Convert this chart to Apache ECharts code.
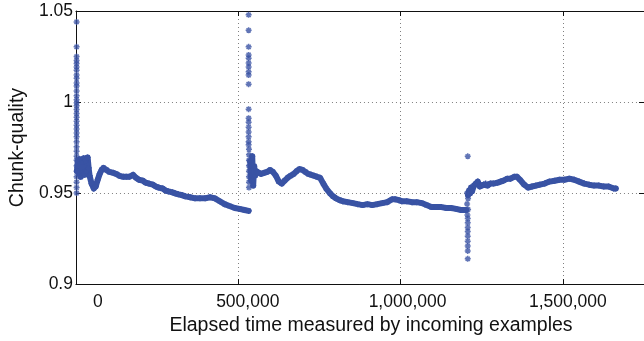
<!DOCTYPE html>
<html>
<head>
<meta charset="utf-8">
<script src="https://cdn.jsdelivr.net/npm/echarts@6/dist/echarts.min.js"></script>
<style>
  html, body { margin: 0; padding: 0; background: #fff; }
  #chart { width: 644px; height: 341px; }
</style>
</head>
<body>
<div id="chart"></div>
<script>
// x tick values and their labels
const xTicks = [0, 500000, 1000000, 1500000]
const xTickText = ['0', '500,000', '1,000,000', '1,500,000']

// main trail, three runs between the restarts
const segA = [
  [3000,0.9621],[6000,0.9675],[9000,0.9605],[12000,0.9686],[15000,0.9589],[18000,0.9670],
  [21000,0.9611],[24000,0.9691],[27000,0.9600],[30000,0.9680],[33000,0.9621],[36000,0.9696],
  [39000,0.9638],[42000,0.9595],[48000,0.9552],[55000,0.9525],[61000,0.9536],[67000,0.9573],
  [73000,0.9605],[79000,0.9627],[85000,0.9638],[94000,0.9627],[103000,0.9616],[115000,0.9611],
  [124000,0.9605],[134000,0.9595],[146000,0.9589],[155000,0.9589],[164000,0.9589],[176000,0.9600],
  [185000,0.9584],[194000,0.9573],[206000,0.9568],[215000,0.9557],[225000,0.9552],[237000,0.9546],
  [246000,0.9536],[255000,0.9530],[267000,0.9525],[276000,0.9514],[285000,0.9509],[297000,0.9504],
  [306000,0.9498],[316000,0.9493],[328000,0.9488],[337000,0.9482],[352000,0.9477],[367000,0.9471],
  [382000,0.9471],[398000,0.9471],[413000,0.9477],[428000,0.9471],[443000,0.9455],[458000,0.9439],
  [473000,0.9429],[489000,0.9418],[504000,0.9413],[519000,0.9407],[532000,0.9402]
]
const segB = [
  [537000,0.9675],[540000,0.9568],[543000,0.9702],[546000,0.9541],[549000,0.9648],[552000,0.9595],
  [555000,0.9621],[561000,0.9611],[570000,0.9605],[580000,0.9611],[589000,0.9616],[598000,0.9627],
  [607000,0.9616],[616000,0.9595],[625000,0.9563],[634000,0.9552],[643000,0.9568],[652000,0.9584],
  [661000,0.9595],[671000,0.9605],[680000,0.9621],[689000,0.9632],[698000,0.9627],[707000,0.9616],
  [716000,0.9605],[725000,0.9600],[734000,0.9595],[743000,0.9589],[752000,0.9584],[762000,0.9552],
  [771000,0.9525],[783000,0.9498],[792000,0.9482],[801000,0.9471],[813000,0.9461],[822000,0.9455],
  [837000,0.9450],[853000,0.9445],[868000,0.9439],[883000,0.9434],[898000,0.9439],[913000,0.9434],
  [928000,0.9439],[944000,0.9445],[959000,0.9450],[974000,0.9466],[983000,0.9466],[995000,0.9461],
  [1004000,0.9455],[1019000,0.9455],[1035000,0.9450],[1050000,0.9450],[1065000,0.9445],[1080000,0.9434],
  [1095000,0.9423],[1110000,0.9423],[1126000,0.9423],[1141000,0.9418],[1156000,0.9418],[1171000,0.9413],
  [1186000,0.9407],[1202000,0.9407]
]
const segC = [
  [1208000,0.9488],[1211000,0.9514],[1214000,0.9498],[1217000,0.9530],[1220000,0.9509],[1226000,0.9541],
  [1232000,0.9552],[1238000,0.9563],[1244000,0.9536],[1250000,0.9541],[1256000,0.9546],[1262000,0.9552],
  [1268000,0.9541],[1277000,0.9552],[1286000,0.9552],[1299000,0.9557],[1308000,0.9563],[1317000,0.9568],
  [1329000,0.9579],[1338000,0.9579],[1350000,0.9589],[1359000,0.9589],[1368000,0.9573],[1381000,0.9546],
  [1393000,0.9530],[1405000,0.9536],[1417000,0.9541],[1429000,0.9546],[1444000,0.9552],[1459000,0.9563],
  [1475000,0.9568],[1490000,0.9573],[1505000,0.9573],[1520000,0.9579],[1535000,0.9573],[1550000,0.9563],
  [1566000,0.9552],[1581000,0.9546],[1596000,0.9541],[1611000,0.9541],[1626000,0.9536],[1641000,0.9536],
  [1657000,0.9525],[1663000,0.9525]
]

// scattered points at the three restarts
const spike1 = [
  [2000,1.0440],[2000,1.0303],[2000,1.0250],[2000,1.0228],[2000,1.0211],[2000,1.0193],[2000,1.0175],
  [2000,1.0148],[2000,1.0130],[2000,1.0104],[2000,1.0088],[2000,1.0061],[2000,1.0034],[2000,1.0013],
  [2000,0.9996],[2000,0.9980],[2000,0.9959],[2000,0.9937],[2000,0.9916],[2000,0.9895],[2000,0.9873],
  [2000,0.9852],[2000,0.9830],[2000,0.9809],[2000,0.9782],[2000,0.9755],[2000,0.9729],[2000,0.9702],
  [2000,0.9680],[2000,0.9650],[2000,0.9620],[2000,0.9590],[2000,0.9560],[2000,0.9530],[2000,0.9500]
]
const spike2 = [
  [532000,1.0479],[532000,1.0394],[532000,1.0303],[532000,1.0259],[532000,1.0241],[532000,1.0214],
  [532000,1.0193],[532000,1.0166],[532000,1.0148],[532000,1.0098],[532000,0.9961],[532000,0.9911],
  [532000,0.9889],[532000,0.9862],[532000,0.9836],[532000,0.9809],[532000,0.9782],[532000,0.9766],
  [533000,0.9740],[533000,0.9710],[533000,0.9680],[533000,0.9650],[533000,0.9620],[533000,0.9590],
  [533000,0.9560],[533000,0.9530]
]
const spike3 = [
  [1207000,0.9702],[1205000,0.9500],[1208000,0.9470],[1205000,0.9440],[1208000,0.9410],[1206000,0.9380],
  [1207000,0.9360],[1207000,0.9337],[1207000,0.9311],[1207000,0.9289],[1207000,0.9263],[1207000,0.9236],
  [1207000,0.9209],[1207000,0.9182],[1207000,0.9139]
]

const blue = '#3953a4'
const font = 'Liberation Sans, Arial, Helvetica, sans-serif'
const star = 'path://M5,0L5,10M0,5L10,5M1.5,1.5L8.5,8.5M1.5,8.5L8.5,1.5'

const trail = (data) => ({
  type: 'line',
  data: data,
  symbol: star,
  symbolSize: 6,
  showAllSymbol: true,
  itemStyle: { color: blue, borderColor: blue, borderWidth: 1.4 },
  lineStyle: { color: blue, width: 6, join: 'round', cap: 'round' },
  silent: true,
  z: 3
})

var myChart = echarts.init(document.getElementById('chart'), null, { renderer: 'canvas' })
var gridLine = { show: true, lineStyle: { color: '#808080', width: 1, type: [1, 3] } }
var boxLine = { show: true, onZero: false, lineStyle: { color: '#111', width: 1 } }
var inTick = { show: true, inside: true, length: 5, lineStyle: { color: '#111' } }
var shifts = [44, 19, 14, 10]
var rich = {}
shifts.forEach((s, i) => {
  rich['t' + i] = { fontSize: 17.5, fontFamily: font, color: '#111', padding: [0, 0, 0, s] }
})

var option = {
  animation: false,
  backgroundColor: '#fff',
  grid: { left: 69, top: 11, right: -2, bottom: 50, containLabel: false },
  xAxis: [
    {
      type: 'value', min: 0, max: 1750000, interval: 500000,
      axisLine: boxLine, axisTick: inTick, splitLine: gridLine,
      axisLabel: {
        margin: 9, showMaxLabel: false, fontSize: 17.5, fontFamily: font, color: '#111',
        formatter: function (v) {
          var i = xTicks.indexOf(v)
          return i < 0 ? '' : '{t' + i + '|' + xTickText[i] + '}'
        },
        rich: rich
      },
      name: 'Elapsed time measured by incoming examples',
      nameLocation: 'middle', nameGap: 27,
      nameTextStyle: { fontSize: 19.5, fontFamily: font, color: '#111', padding: [0, 0, 0, 22] }
    },
    {
      type: 'value', position: 'top', min: 0, max: 1750000, interval: 500000,
      axisLine: boxLine, axisTick: inTick, splitLine: { show: false }, axisLabel: { show: false }
    }
  ],
  yAxis: [
    {
      type: 'value', min: 0.9, max: 1.05, interval: 0.05,
      axisLine: boxLine, axisTick: inTick, splitLine: gridLine,
      axisLabel: { margin: 3, fontSize: 17.5, fontFamily: font, color: '#111' },
      name: 'Chunk-quality', nameLocation: 'middle', nameGap: 42,
      nameTextStyle: { fontSize: 19.5, fontFamily: font, color: '#111' }
    },
    {
      type: 'value', position: 'right', min: 0.9, max: 1.05, interval: 0.05,
      axisLine: boxLine, axisTick: inTick, splitLine: { show: false }, axisLabel: { show: false }
    }
  ],
  series: [
    trail(segA),
    trail(segB),
    trail(segC),
    {
      type: 'scatter',
      data: spike1.concat(spike2, spike3),
      symbol: star,
      symbolSize: 6,
      itemStyle: { color: blue, borderColor: blue, borderWidth: 1.5 },
      silent: true,
      z: 4
    }
  ]
}
myChart.setOption(option)
</script>
</body>
</html>
